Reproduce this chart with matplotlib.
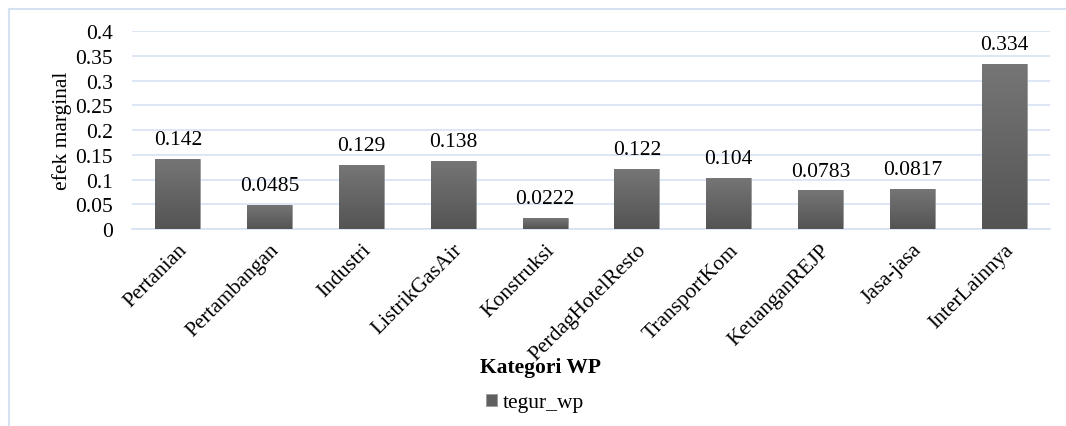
import numpy as np
import matplotlib
matplotlib.use("Agg")
import matplotlib.pyplot as plt
from matplotlib.colors import LinearSegmentedColormap
from matplotlib.lines import Line2D

categories = ["Pertanian", "Pertambangan", "Industri", "ListrikGasAir", "Konstruksi",
              "PerdagHotelResto", "TransportKom", "KeuanganREJP", "Jasa-jasa", "InterLainnya"]
values = [0.142, 0.0485, 0.129, 0.138, 0.0222, 0.122, 0.104, 0.0783, 0.0817, 0.334]
value_labels = ["0.142", "0.0485", "0.129", "0.138", "0.0222", "0.122", "0.104", "0.0783", "0.0817", "0.334"]
yticks = [0, 0.05, 0.1, 0.15, 0.2, 0.25, 0.3, 0.35, 0.4]
ytick_labels = ["0", "0.05", "0.1", "0.15", "0.2", "0.25", "0.3", "0.35", "0.4"]

plt.rcParams["font.family"] = ["Liberation Serif", "DejaVu Serif"]
grid_col = "#d5e2f2"
fs = 15.5

fig = plt.figure(figsize=(10.66, 4.27), dpi=100)
ax = fig.add_axes([132 / 1066, 1 - 230 / 427, (1050 - 132) / 1066, (230 - 32) / 427])

x = np.arange(len(categories))
bars = ax.bar(x, values, width=0.49, color="#606060", edgecolor="#9a9a9a", linewidth=0.6,
              label="tegur_wp", zorder=3)

# vertical gradient fill like the original
cmap = LinearSegmentedColormap.from_list("g", ["#545454", "#767676"])
grad = np.linspace(0, 1, 256).reshape(-1, 1)
for b in bars:
    x0, w, h = b.get_x(), b.get_width(), b.get_height()
    im = ax.imshow(grad, cmap=cmap, aspect="auto", origin="lower",
                   extent=[x0, x0 + w, 0, h], zorder=3.5)
    im.set_clip_path(b)

for xi, v, lab in zip(x, values, value_labels):
    ax.annotate(lab, (xi, v), xytext=(0, 7), textcoords="offset points",
                ha="center", va="bottom", fontsize=fs)

ax.set_xlim(-0.5, len(categories) - 0.5)
ax.set_ylim(0, 0.4)
ax.set_yticks(yticks)
ax.set_yticklabels(ytick_labels, fontsize=fs)
ax.set_xticks(x)
ax.set_xticklabels(categories, rotation=45, ha="right", rotation_mode="anchor", fontsize=fs)
ax.tick_params(axis="y", length=0, pad=14)
ax.tick_params(axis="x", length=0, pad=8)
ax.grid(axis="y", color=grid_col, linewidth=1.2, zorder=0)
for s in ["top", "right", "left"]:
    ax.spines[s].set_visible(False)
ax.spines["bottom"].set_color(grid_col)
ax.spines["bottom"].set_linewidth(1.2)

ax.set_ylabel("efek marginal", fontsize=fs, labelpad=2)
fig.text(540 / 1066, 1 - 368 / 427, "Kategori WP", ha="center", va="center",
         fontsize=fs, fontweight="bold")
fig.legend(handles=[bars], labels=["tegur_wp"], loc="center", bbox_to_anchor=(535 / 1066, 1 - 404 / 427),
           frameon=False, fontsize=fs, handlelength=0.5, handleheight=0.5, handletextpad=0.3)

# outer chart frame (left and top visible)
fig.add_artist(Line2D([8.5 / 1066, 8.5 / 1066], [0, 1 - 10 / 427], transform=fig.transFigure,
                      color=grid_col, linewidth=1.5))
fig.add_artist(Line2D([8.5 / 1066, 1], [1 - 10 / 427, 1 - 10 / 427], transform=fig.transFigure,
                      color=grid_col, linewidth=1.5))

fig.savefig("out.png", dpi=100)
